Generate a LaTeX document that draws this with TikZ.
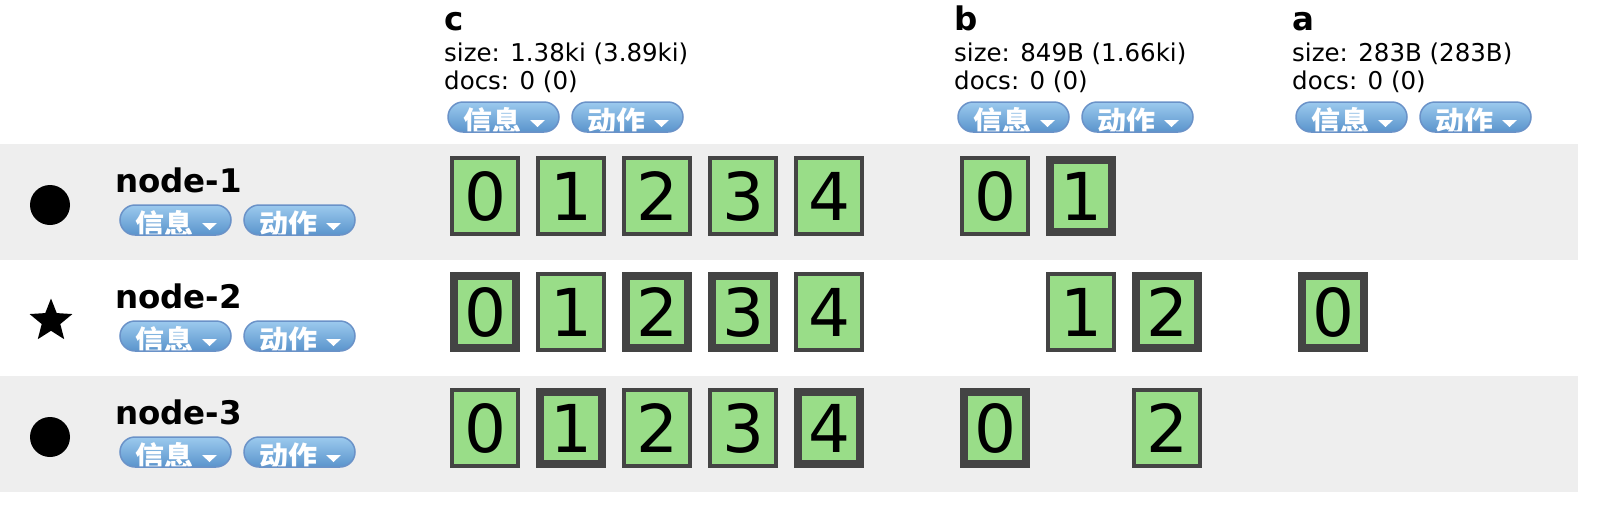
\documentclass[tikz,border=0pt]{standalone}
\usepackage{fontspec}
\setmainfont{DejaVu Sans}
\newfontfamily\cjk{Noto Sans CJK SC}
\usetikzlibrary{shapes.geometric}
\definecolor{band}{HTML}{EEEEEE}
\definecolor{boxg}{HTML}{99DD88}
\definecolor{bordc}{HTML}{444444}
\definecolor{btntop}{HTML}{9CCAEE}
\definecolor{btnbot}{HTML}{5A94CC}
\definecolor{btnline}{HTML}{6A92C8}
\newcommand\mybtn[4]{%
  \shade[top color=btntop,bottom color=btnbot,rounded corners=15pt] (#2,#3) rectangle ++(111,30);
  \begin{scope}
    \clip[rounded corners=15pt] (#2,#3) rectangle ++(111,30);
    \node[btntext] (#1) at (#2+15,#3+30) {#4};
    \fill[white] (#2+82,#3+18) -- (#2+97,#3+18) -- (#2+89.5,#3+25) -- cycle;
  \end{scope}
  \draw[btnline,line width=1.5pt,rounded corners=15pt] (#2,#3) rectangle ++(111,30);}
\begin{document}
\begin{tikzpicture}[x=1pt,y=-1pt,
  btntext/.style={anchor=base west,inner sep=0,text=white,font={\cjk\bfseries\fontsize{29}{32}\selectfont}},
  title/.style={anchor=base west,inner sep=0,font={\bfseries\fontsize{32.5}{38}\selectfont}},
  info/.style={anchor=base west,inner sep=0,font={\fontsize{24.5}{29}\selectfont}},
  shard/.style={draw=bordc,fill=boxg,line width=4pt,minimum width=66pt,minimum height=76pt,inner sep=0,font={\fontsize{66}{70}\selectfont}},
  prim/.style={shard,line width=8pt,minimum width=62pt,minimum height=72pt}]
\useasboundingbox (0,0) rectangle (1614,520);
\fill[band] (0,144) rectangle (1578,260);
\fill[band] (0,376) rectangle (1578,492);
% headers
\node[title] (tc) at (444,30) {c};
\node[info] (sc) at (444,61) {size: 1.38ki (3.89ki)};
\node[info] (dc) at (444,89) {docs: 0 (0)};
\mybtn{ic}{448}{102}{信息}
\mybtn{ac}{572}{102}{动作}
\node[title] (tb) at (954,30) {b};
\node[info] (sb) at (954,61) {size: 849B (1.66ki)};
\node[info] (db) at (954,89) {docs: 0 (0)};
\mybtn{ib}{958}{102}{信息}
\mybtn{ab}{1082}{102}{动作}
\node[title] (ta) at (1292,30) {a};
\node[info] (sa) at (1292,61) {size: 283B (283B)};
\node[info] (da) at (1292,89) {docs: 0 (0)};
\mybtn{ia}{1296}{102}{信息}
\mybtn{aa}{1420}{102}{动作}
% node rows
\node[circle,fill=black,minimum size=40pt,inner sep=0] (m1) at (50,205) {};
\node[title] (n1) at (115,192) {node-1};
\mybtn{in1}{120}{205}{信息}
\mybtn{an1}{244}{205}{动作}
\node[star,star points=5,star point ratio=2.3,fill=black,minimum size=45pt,inner sep=0] (m2) at (51,321) {};
\node[title] (n2) at (115,308) {node-2};
\mybtn{in2}{120}{321}{信息}
\mybtn{an2}{244}{321}{动作}
\node[circle,fill=black,minimum size=40pt,inner sep=0] (m3) at (50,437) {};
\node[title] (n3) at (115,424) {node-3};
\mybtn{in3}{120}{437}{信息}
\mybtn{an3}{244}{437}{动作}
% shards row 1
\node[shard] (r1c0) at (485,196) {0};
\node[shard] (r1c1) at (571,196) {1};
\node[shard] (r1c2) at (657,196) {2};
\node[shard] (r1c3) at (743,196) {3};
\node[shard] (r1c4) at (829,196) {4};
\node[shard] (r1b0) at (995,196) {0};
\node[prim]  (r1b1) at (1081,196) {1};
% shards row 2
\node[prim]  (r2c0) at (485,312) {0};
\node[shard] (r2c1) at (571,312) {1};
\node[prim]  (r2c2) at (657,312) {2};
\node[prim]  (r2c3) at (743,312) {3};
\node[shard] (r2c4) at (829,312) {4};
\node[shard] (r2b1) at (1081,312) {1};
\node[prim]  (r2b2) at (1167,312) {2};
\node[prim]  (r2a0) at (1333,312) {0};
% shards row 3
\node[shard] (r3c0) at (485,428) {0};
\node[prim]  (r3c1) at (571,428) {1};
\node[shard] (r3c2) at (657,428) {2};
\node[shard] (r3c3) at (743,428) {3};
\node[prim]  (r3c4) at (829,428) {4};
\node[prim]  (r3b0) at (995,428) {0};
\node[shard] (r3b2) at (1167,428) {2};
\end{tikzpicture}
\end{document}
